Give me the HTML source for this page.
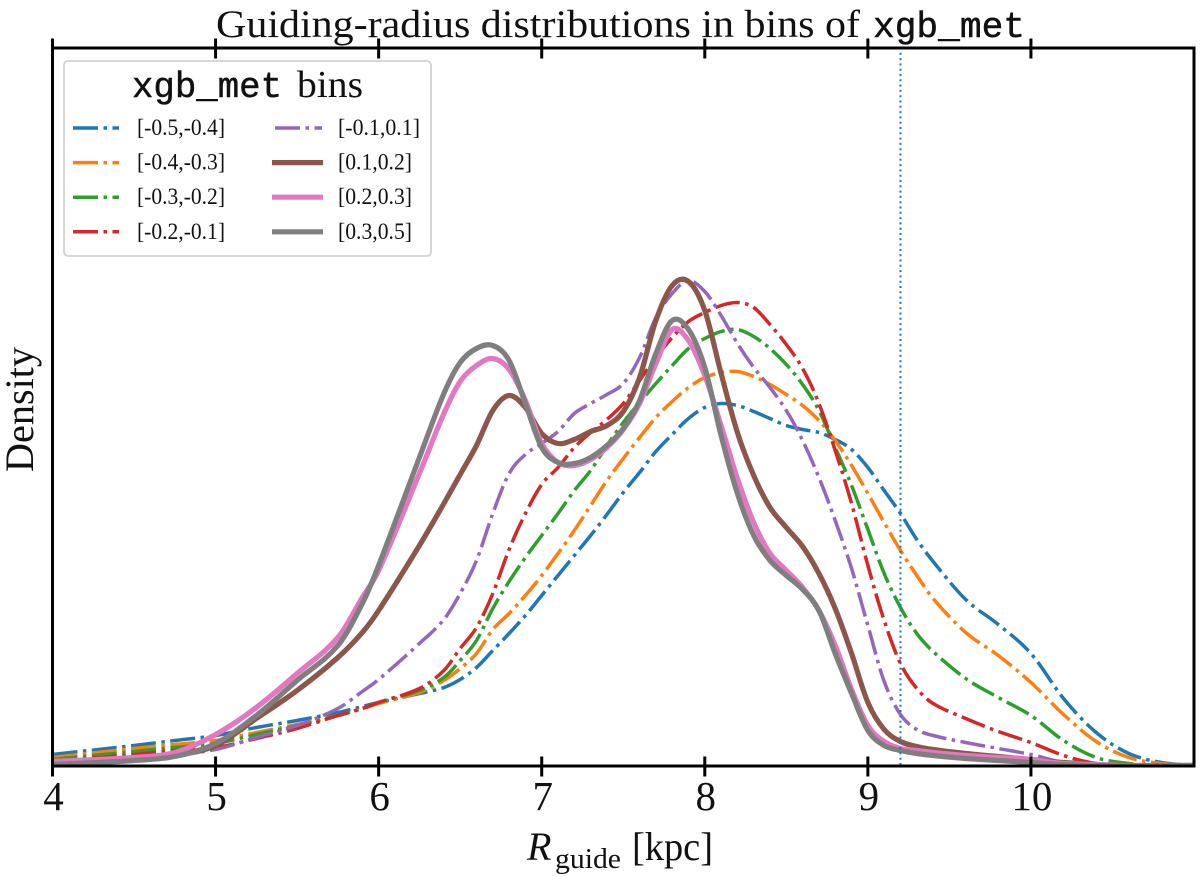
<!DOCTYPE html>
<html lang="en">
<head>
<meta charset="utf-8">
<title>Guiding-radius distributions</title>
<style>
html,body{margin:0;padding:0;background:#fff;}
svg{display:block;}
text{font-family:"Liberation Serif",serif;fill:#111;}
.mono{font-family:"Liberation Mono",monospace;stroke:#111;stroke-width:.5px;}
</style>
</head>
<body>
<svg id="chart" xmlns="http://www.w3.org/2000/svg" width="1200" height="876" viewBox="0 0 1200 876">
  <defs><clipPath id="plot-clip"><rect x="52.5" y="47.5" width="1141.5" height="718"/></clipPath></defs>
  <rect x="0" y="0" width="1200" height="876" fill="#fff"/>
  <g id="plot-lines" clip-path="url(#plot-clip)"></g>
  <g id="axes"></g>
  <text x="216" y="37" font-size="39" textLength="644" lengthAdjust="spacingAndGlyphs">Guiding-radius distributions in bins of</text>
  <text class="mono" x="873" y="37" font-size="36" textLength="152" lengthAdjust="spacingAndGlyphs">xgb_met</text>
  <text y="860" font-size="40"><tspan x="527" font-style="italic">R</tspan><tspan x="555" y="868" font-size="28" textLength="66" lengthAdjust="spacingAndGlyphs">guide</tspan><tspan x="632" y="860" textLength="81" lengthAdjust="spacingAndGlyphs">[kpc]</tspan></text>
  <text transform="translate(33,472) rotate(-90)" x="0" y="0" font-size="40" textLength="125" lengthAdjust="spacingAndGlyphs">Density</text>
  <g id="legend">
    <rect x="64" y="61" width="367" height="195" rx="4" ry="4" fill="#fff" fill-opacity=".85" stroke="#ccc" stroke-width="1.6"/>
    <text class="mono" x="132" y="97" font-size="36" textLength="150" lengthAdjust="spacingAndGlyphs">xgb_met</text>
    <text x="297" y="97" font-size="38" textLength="66" lengthAdjust="spacingAndGlyphs">bins</text>
  </g>
</svg>
<script>
// Shared x grid (kpc)
const radiusGrid = [4,4.5,4.75,5,5.25,5.5,5.75,5.9,6,6.25,6.4,6.5,6.6,6.7,6.8,6.9,7,7.1,7.2,7.3,7.4,7.5,7.6,7.7,7.8,7.9,8,8.1,8.2,8.3,8.4,8.5,8.6,8.7,8.8,8.9,9,9.1,9.2,9.3,9.4,9.6,9.8,10,10.2,10.4,10.6,10.8,11];
// Density per bin (arbitrary units, the y axis has no tick labels)
const densityM05 = [11,20,25,30,38,45,53,59,63,72,78,86,98,115,132,150,170,190,210,230,251,273,293,314,331,347,358,362,360,354,347,340,336,333,326,316,298,275,252,226,204,166,141,112,67,33,12,3,0];
const densityM04 = [8,17,21,25,33,41,50,57,62,73,85,97,112,136,152,170,190,212,235,260,285,307,328,348,364,378,388,393,394,389,381,371,360,345,325,300,272,243,215,190,167,133,110,83,51,24,8,2,0];
const densityM03 = [6,14,18,22,31,40,50,57,63,75,88,105,125,157,184,208,230,252,275,295,320,343,363,382,400,417,427,434,436,429,417,401,381,355,318,280,236,192,158,132,114,87,68,50,25,8,2,0,0];
const densityM02 = [4,11,15,18,27,37,50,57,63,77,95,117,138,172,216,252,281,298,318,333,346,362,385,408,428,444,453,460,463,458,441,421,397,362,315,262,200,145,102,77,62,47,34,23,10,2,0,0,0];
const densityM01 = [3,8,11,16,28,40,57,74,86,122,146,172,205,252,292,311,322,334,352,362,371,382,408,448,472,485,474,450,422,398,378,355,325,288,245,197,140,84,51,36,30,23,17,11,3,1,0,0,0];
const densityP01 = [3,6,10,20,47,75,108,133,155,220,262,291,320,355,370,358,332,322,326,334,340,354,388,445,480,484,455,392,333,290,258,238,219,192,157,112,63,36,24,19,16,12,9,6,3,1,0,0,0];
const densityP02 = [4,8,13,31,58,92,128,168,195,292,352,384,400,407,396,365,322,303,300,306,318,336,362,402,436,425,390,340,287,243,212,195,178,155,120,76,40,24,17,15,13,10,8,6,2,1,0,0,0];
const densityP03 = [1,5,9,22,50,85,120,162,200,308,372,403,417,420,405,362,318,303,302,308,320,337,365,412,445,436,398,330,272,230,205,190,176,155,112,72,35,20,15,12,10,7,5,3,1,0,0,0,0];
const binLabels = ["[-0.5,-0.4]","[-0.4,-0.3]","[-0.3,-0.2]","[-0.2,-0.1]","[-0.1,0.1]","[0.1,0.2]","[0.2,0.3]","[0.3,0.5]"];
const binColors = ["#1f77b4","#ff7f0e","#2ca02c","#d62728","#9467bd","#8c564b","#e377c2","#7f7f7f"];
const binSeries = [densityM05,densityM04,densityM03,densityM02,densityM01,densityP01,densityP02,densityP03];
const xTicks = [4,5,6,7,8,9,10];
const solarRadius = [9.2];
const xDomain = [4,11];
const yDomain = [0,718];

const SVGNS = "http://www.w3.org/2000/svg";
const plotLeft = 52.5, plotRight = 1194, plotTop = 47.5, plotBottom = 765.5;
function xScale(v){ return plotLeft + (v - xDomain[0]) / (xDomain[1] - xDomain[0]) * (plotRight - plotLeft); }
function yScale(v){ return plotBottom - (v - yDomain[0]) / (yDomain[1] - yDomain[0]) * (plotBottom - plotTop); }
function make(tag, attrs, parent){
  const el = document.createElementNS(SVGNS, tag);
  for (const k in attrs) el.setAttribute(k, attrs[k]);
  parent.appendChild(el);
  return el;
}
function curvePath(xs, ys){
  const px = xs.map(xScale), py = ys.map(yScale), n = px.length;
  const slope = px.map((_, i) => {
    const a = Math.max(i - 1, 0), b = Math.min(i + 1, n - 1);
    return (py[b] - py[a]) / (px[b] - px[a]);
  });
  let d = "M" + px[0].toFixed(1) + " " + py[0].toFixed(1);
  for (let i = 0; i < n - 1; i++) {
    const dx = (px[i + 1] - px[i]) / 3;
    d += "C" + (px[i] + dx).toFixed(1) + " " + (py[i] + slope[i] * dx).toFixed(1) + " " +
         (px[i + 1] - dx).toFixed(1) + " " + (py[i + 1] - slope[i + 1] * dx).toFixed(1) + " " +
         px[i + 1].toFixed(1) + " " + py[i + 1].toFixed(1);
  }
  return d;
}
const DASHDOT = "25 5.5 3.5 5.5";
function styleFor(i){
  return i < 5 ? {w: 3.5, dash: DASHDOT} : {w: 5.2, dash: "none"};
}

const plotLines = document.getElementById("plot-lines");
binSeries.forEach((values, i) => {
  const s = styleFor(i);
  const path = make("path", {d: curvePath(radiusGrid, values), fill: "none", stroke: binColors[i], "stroke-width": s.w, "stroke-dasharray": s.dash}, plotLines);
  
  
});
solarRadius.forEach(r => {
  const ln = make("line", {x1: xScale(r), x2: xScale(r), y1: plotTop, y2: plotBottom, stroke: "#1f77b4", "stroke-width": 2, "stroke-dasharray": "2 3.3"}, plotLines);
  
  
});

const axes = document.getElementById("axes");
const frame = make("rect", {x: plotLeft, y: plotTop + .5, width: plotRight - plotLeft, height: plotBottom - plotTop, fill: "none", stroke: "#000", "stroke-width": 3}, axes);


xTicks.forEach(t => {
  const x = xScale(t);
  const bottomTick = make("line", {x1: x, x2: x, y1: plotBottom - 9, y2: plotBottom + 11, stroke: "#000", "stroke-width": 3}, axes);
  
  
  const topTick = make("line", {x1: x, x2: x, y1: plotTop - 9, y2: plotTop + 11, stroke: "#000", "stroke-width": 3}, axes);
  
  
  const lab = make("text", {x: x + 1, y: 810, "text-anchor": "middle", "font-size": 41}, axes);
  lab.textContent = String(t);
  
  
});

const legend = document.getElementById("legend");
binLabels.forEach((label, i) => {
  const col = i < 4 ? 0 : 1, row = i % 4;
  const yLine = 128 + row * 34.6;
  const s = styleFor(i);
  const x1 = col ? 275 : 73, x2 = col ? 322 : 119;
  const key = make("line", {x1: i < 5 ? x1 : 272, x2: i < 5 ? x2 : 323, y1: yLine, y2: yLine, stroke: binColors[i], "stroke-width": s.w, "stroke-dasharray": s.dash}, legend);
  
  
  const txt = make("text", {x: col ? 338 : 137, y: yLine + 7, "font-size": 23, fill: "#333", textLength: i < 4 ? 88 : (i === 4 ? 82 : 74), lengthAdjust: "spacingAndGlyphs"}, legend);
  txt.textContent = label;
  
  
});
</script>
</body>
</html>
